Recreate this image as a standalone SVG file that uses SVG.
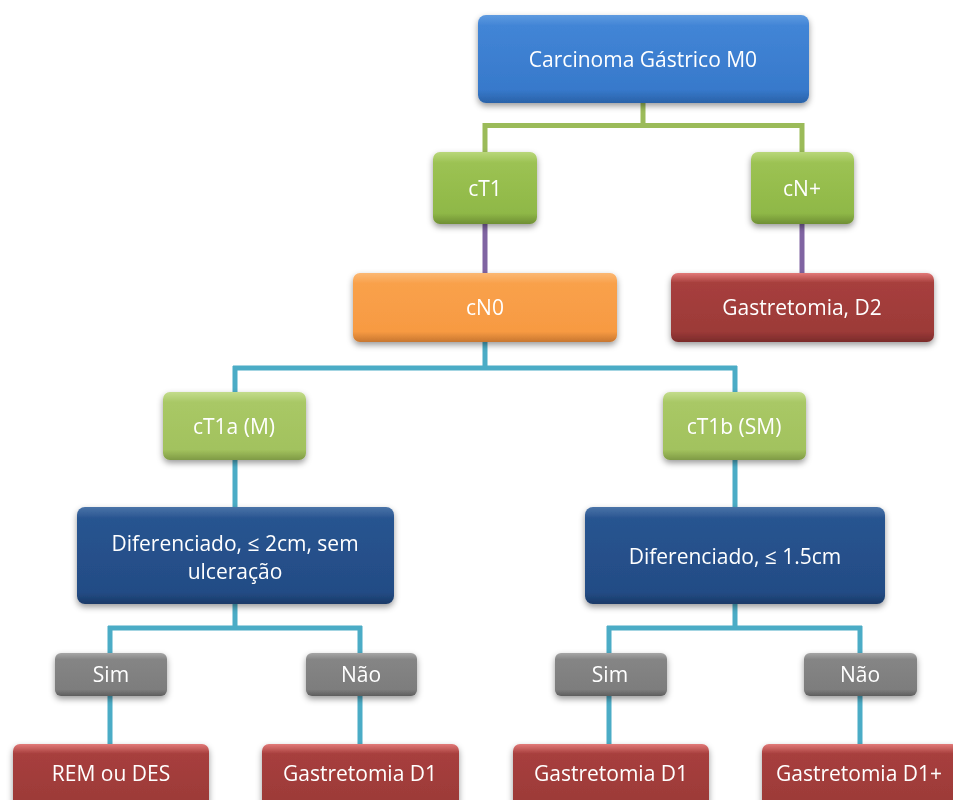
<svg xmlns="http://www.w3.org/2000/svg" width="953" height="800" viewBox="0 0 953 800">
<style>
  .lbl { font-family: "Open Sans", "Liberation Sans", sans-serif; font-size: 21px; fill: #ffffff; text-anchor: middle; }
  .box { filter: url(#shadow); }
  .green-line { stroke: #9bbb59; stroke-width: 5; fill: none; }
  .purple-line { stroke: #8064a2; stroke-width: 5; fill: none; }
  .blue-line { stroke: #4bacc6; stroke-width: 5; fill: none; }
</style>
<defs>
  <filter id="shadow" x="-10%" y="-20%" width="120%" height="150%">
    <feDropShadow dx="0" dy="3" stdDeviation="3" flood-color="#000" flood-opacity="0.4"/>
  </filter>
  <linearGradient id="gBlue" x1="0" y1="0" x2="0" y2="1">
    <stop offset="0" stop-color="#5f9be0"/>
    <stop offset="0.12" stop-color="#4285d6"/>
    <stop offset="0.85" stop-color="#3779cb"/>
    <stop offset="1" stop-color="#2a62a8"/>
  </linearGradient>
  <linearGradient id="gGreen" x1="0" y1="0" x2="0" y2="1">
    <stop offset="0" stop-color="#b9d77a"/>
    <stop offset="0.15" stop-color="#9cc253"/>
    <stop offset="0.85" stop-color="#8fb847"/>
    <stop offset="1" stop-color="#6f8f35"/>
  </linearGradient>
  <linearGradient id="gLGreen" x1="0" y1="0" x2="0" y2="1">
    <stop offset="0" stop-color="#c3dc8c"/>
    <stop offset="0.15" stop-color="#a9c866"/>
    <stop offset="0.85" stop-color="#a2c25e"/>
    <stop offset="1" stop-color="#7f9a45"/>
  </linearGradient>
  <linearGradient id="gOrange" x1="0" y1="0" x2="0" y2="1">
    <stop offset="0" stop-color="#fbb874"/>
    <stop offset="0.15" stop-color="#f9a14b"/>
    <stop offset="0.85" stop-color="#f79a42"/>
    <stop offset="1" stop-color="#c77630"/>
  </linearGradient>
  <linearGradient id="gRed" x1="0" y1="0" x2="0" y2="1">
    <stop offset="0" stop-color="#e27a78"/>
    <stop offset="0.14" stop-color="#a73f3d"/>
    <stop offset="0.85" stop-color="#9c3a38"/>
    <stop offset="1" stop-color="#7a2b2a"/>
  </linearGradient>
  <linearGradient id="gDBlue" x1="0" y1="0" x2="0" y2="1">
    <stop offset="0" stop-color="#4a74a8"/>
    <stop offset="0.12" stop-color="#285490"/>
    <stop offset="0.88" stop-color="#234c85"/>
    <stop offset="1" stop-color="#1a3a68"/>
  </linearGradient>
  <linearGradient id="gGray" x1="0" y1="0" x2="0" y2="1">
    <stop offset="0" stop-color="#a6a6a6"/>
    <stop offset="0.15" stop-color="#858585"/>
    <stop offset="0.85" stop-color="#7d7d7d"/>
    <stop offset="1" stop-color="#5e5e5e"/>
  </linearGradient>
</defs>

<g id="connectors">
  <path class="green-line" d="M643 103 V125.5 M485 125.5 H801 M485 123 V152 M802 123 V152"/>
  <path class="purple-line" d="M485 224 V273 M802 224 V273"/>
  <path class="blue-line" d="M485 342 V368 M233 368 H737 M235 366 V392 M735 366 V392"/>
  <path class="blue-line" d="M235 460 V508 M735 460 V508"/>
  <path class="blue-line" d="M235 604 V628 M108 628 H362 M110 626 V653 M360 626 V653"/>
  <path class="blue-line" d="M735 604 V628 M607 628 H862 M609 626 V653 M860 626 V653"/>
  <path class="blue-line" d="M110 696 V744 M360 696 V744 M609 696 V744 M860 696 V744"/>
</g>

<g id="n-carcinoma" class="box">
  <rect x="478" y="15" width="331" height="88" rx="8" fill="url(#gBlue)"/>
  <text class="lbl" x="643" y="66.5">Carcinoma Gástrico M0</text>
</g>
<g id="n-ct1" class="box">
  <rect x="433" y="152" width="104" height="72" rx="7" fill="url(#gGreen)"/>
  <text class="lbl" x="485" y="195.5">cT1</text>
</g>
<g id="n-cnplus" class="box">
  <rect x="751" y="152" width="103" height="72" rx="7" fill="url(#gGreen)"/>
  <text class="lbl" x="802" y="195.5">cN+</text>
</g>
<g id="n-cn0" class="box">
  <rect x="353" y="273" width="264" height="69" rx="7" fill="url(#gOrange)"/>
  <text class="lbl" x="485" y="314.5">cN0</text>
</g>
<g id="n-gastro-d2" class="box">
  <rect x="671" y="273" width="263" height="69" rx="7" fill="url(#gRed)"/>
  <text class="lbl" x="802" y="314.5">Gastretomia, D2</text>
</g>
<g id="n-ct1a" class="box">
  <rect x="163" y="392" width="143" height="68" rx="7" fill="url(#gLGreen)"/>
  <text class="lbl" x="234" y="433.5">cT1a (M)</text>
</g>
<g id="n-ct1b" class="box">
  <rect x="663" y="392" width="143" height="68" rx="7" fill="url(#gLGreen)"/>
  <text class="lbl" x="734" y="433.5">cT1b (SM)</text>
</g>
<g id="n-dif-2cm" class="box">
  <rect x="77" y="507" width="317" height="97" rx="8" fill="url(#gDBlue)"/>
  <text class="lbl" x="235" y="551">Diferenciado, ≤ 2cm, sem</text>
  <text class="lbl" x="235" y="579">ulceração</text>
</g>
<g id="n-dif-15cm" class="box">
  <rect x="585" y="507" width="300" height="97" rx="8" fill="url(#gDBlue)"/>
  <text class="lbl" x="735" y="563.5">Diferenciado, ≤ 1.5cm</text>
</g>
<g id="n-sim-left" class="box">
  <rect x="55" y="653" width="112" height="43" rx="6" fill="url(#gGray)"/>
  <text class="lbl" x="111" y="681.5">Sim</text>
</g>
<g id="n-nao-left" class="box">
  <rect x="306" y="653" width="111" height="43" rx="6" fill="url(#gGray)"/>
  <text class="lbl" x="361" y="681.5">Não</text>
</g>
<g id="n-sim-right" class="box">
  <rect x="555" y="653" width="112" height="43" rx="6" fill="url(#gGray)"/>
  <text class="lbl" x="610" y="681.5">Sim</text>
</g>
<g id="n-nao-right" class="box">
  <rect x="804" y="653" width="113" height="43" rx="6" fill="url(#gGray)"/>
  <text class="lbl" x="860" y="681.5">Não</text>
</g>
<g id="n-rem-des" class="box">
  <rect x="13" y="744" width="196" height="70" rx="7" fill="url(#gRed)"/>
  <text class="lbl" x="111" y="780.5">REM ou DES</text>
</g>
<g id="n-gastro-d1-left" class="box">
  <rect x="262" y="744" width="197" height="70" rx="7" fill="url(#gRed)"/>
  <text class="lbl" x="360" y="780.5">Gastretomia D1</text>
</g>
<g id="n-gastro-d1-right" class="box">
  <rect x="513" y="744" width="196" height="70" rx="7" fill="url(#gRed)"/>
  <text class="lbl" x="611" y="780.5">Gastretomia D1</text>
</g>
<g id="n-gastro-d1plus" class="box">
  <rect x="762" y="744" width="197" height="70" rx="7" fill="url(#gRed)"/>
  <text class="lbl" x="859" y="780.5">Gastretomia D1+</text>
</g>
</svg>
